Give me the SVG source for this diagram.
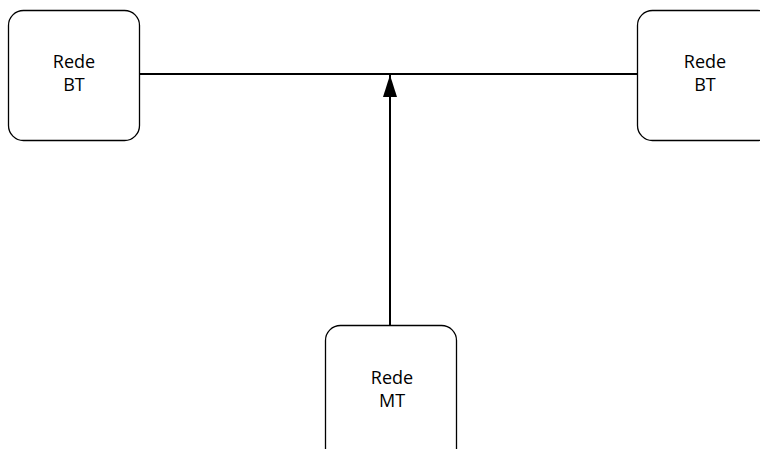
<svg xmlns="http://www.w3.org/2000/svg" width="760" height="449" viewBox="0 0 760 449">
<style>
.box{fill:#fff;stroke:#000;stroke-width:1.3}
.lbl{font-family:"Open Sans","Noto Sans",sans-serif;font-size:18px;fill:#000;text-anchor:middle}
.conn{stroke:#000;stroke-width:2;fill:none}
</style>
<defs>
<marker id="arr" markerUnits="userSpaceOnUse" markerWidth="22" markerHeight="14" refX="22" refY="7" orient="auto" viewBox="0 0 22 14">
<path d="M0,0 L22,7 L0,14 Z" fill="#000"/>
</marker>
</defs>
<g id="connectors">
<line class="conn" x1="139" y1="74" x2="637" y2="74"/>
<line class="conn" x1="390" y1="325" x2="390" y2="75" marker-end="url(#arr)"/>
</g>
<g id="bt-left">
<rect class="box" x="8.5" y="10.5" width="131" height="130" rx="15"/>
<text class="lbl" x="74" y="68">Rede</text>
<text class="lbl" x="74" y="91">BT</text>
</g>
<g id="bt-right">
<rect class="box" x="637.5" y="10.5" width="135" height="130" rx="15"/>
<text class="lbl" x="705" y="68">Rede</text>
<text class="lbl" x="705" y="91">BT</text>
</g>
<g id="mt">
<rect class="box" x="325.5" y="325.5" width="131" height="140" rx="15"/>
<text class="lbl" x="392" y="384">Rede</text>
<text class="lbl" x="392" y="407">MT</text>
</g>
</svg>
